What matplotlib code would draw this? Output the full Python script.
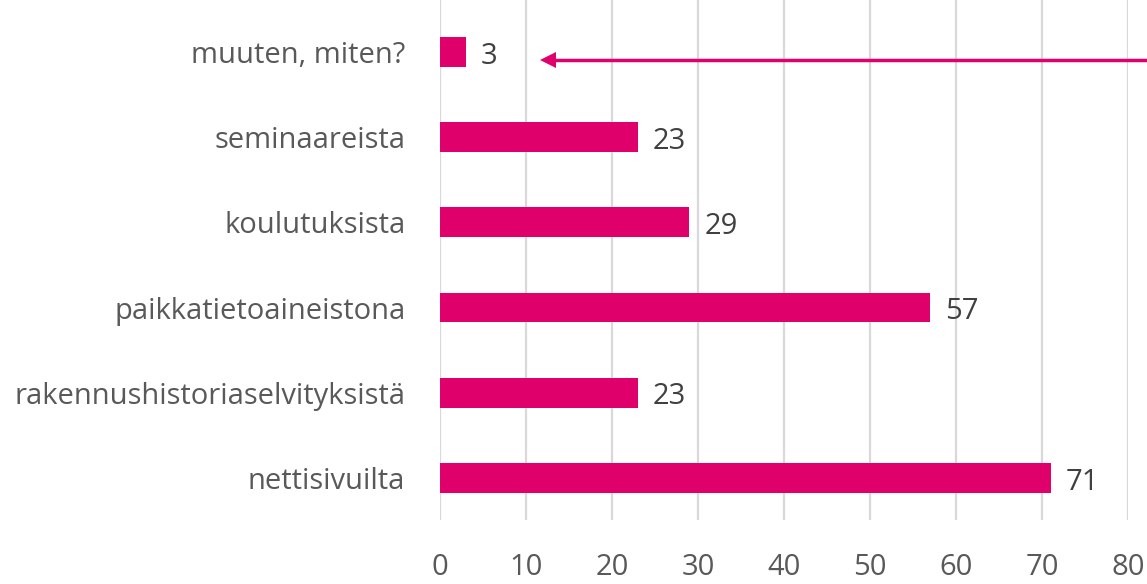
import numpy as np
import matplotlib.pyplot as plt

plt.rcParams['font.family'] = ['Open Sans', 'DejaVu Sans']

# 数据
categories = ['nettisivuilta', 'rakennushistoriaselvityksistä', 'paikkatietoaineistona',
              'koulutuksista', 'seminaareista', 'muuten, miten?']
values = [71, 23, 57, 29, 23, 3]
xticks = [0, 10, 20, 30, 40, 50, 60, 70, 80]

bar_color = '#E0006B'

fig = plt.figure(figsize=(11.47, 5.84), dpi=100)
ax = fig.add_axes([0.3836, 0.1096, 0.5998, 0.8904])

y = np.arange(len(categories))
ax.barh(y, values, height=0.35, color=bar_color, zorder=3)

# 数值标签
for yi, v in zip(y, values):
    ax.annotate(str(v), xy=(v, yi), xytext=(11, -3), textcoords='offset points',
                va='center', ha='left', fontsize=21, color='#404040')

ax.set_xlim(0, 80)
ax.set_ylim(-0.494, 5.61)
ax.set_xticks(xticks)
ax.set_yticks(y)
ax.set_yticklabels(categories)

ax.xaxis.grid(True, color='#d9d9d9', linewidth=1.6, zorder=0)
ax.tick_params(axis='x', length=0, pad=24, labelsize=21, labelcolor='#595959')
ax.tick_params(axis='y', length=0, pad=25, labelsize=21, labelcolor='#595959')
for s in ax.spines.values():
    s.set_visible(False)

# 箭头
ax.plot([12.5, 83], [4.9, 4.9], color=bar_color, lw=2.5, clip_on=False, zorder=4)
ax.plot([12.6], [4.9], marker='<', markersize=12, color=bar_color,
        markeredgewidth=0, clip_on=False, zorder=4)

fig.savefig('out.png', dpi=100)
